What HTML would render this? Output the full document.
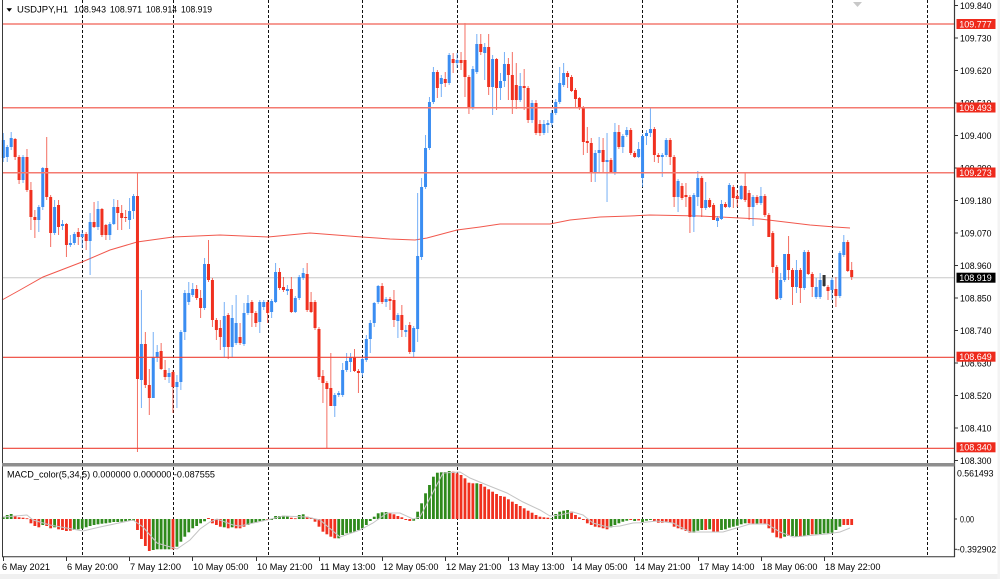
<!DOCTYPE html>
<html><head><meta charset="utf-8">
<style>
html,body{margin:0;padding:0;background:#fff;overflow:hidden;}
svg{display:block;font-family:"Liberation Sans",sans-serif;}
</style></head><body>
<svg id="c" width="1000" height="579" viewBox="0 0 1000 579" xmlns="http://www.w3.org/2000/svg">
<rect x="0" y="0" width="1000" height="579" fill="#ffffff"/>
<rect x="0" y="574" width="1000" height="5" fill="#f0f0f0"/>
<rect x="997.5" y="0" width="2.5" height="579" fill="#f3f3f3"/>
<!-- vertical dashed grid -->
<path d="M82.5 0V463M173.5 0V463M268.5 0V463M362.5 0V463M457.5 0V463M552.5 0V463M642.5 0V463M737.5 0V463M832.5 0V463M927.5 0V463" stroke="#111" stroke-width="1" stroke-dasharray="3 2" fill="none"/>
<path d="M82.5 467V556M173.5 467V556M268.5 467V556M362.5 467V556M457.5 467V556M552.5 467V556M642.5 467V556M737.5 467V556M832.5 467V556M927.5 467V556" stroke="#111" stroke-width="1" stroke-dasharray="3 2" fill="none"/>
<!-- current price line -->
<line x1="2" y1="277.7" x2="954" y2="277.7" stroke="#c8c8c8" stroke-width="1"/>
<g id="cd"></g>
<!-- level lines -->
<g stroke-width="1.5" stroke="#f47a70">
<line x1="2" y1="24" x2="954" y2="24"/>
<line x1="2" y1="107.7" x2="954" y2="107.7"/>
<line x1="2" y1="172.7" x2="954" y2="172.7"/>
</g>
<g stroke-width="1.1" stroke="#ee4236">
<line x1="2" y1="357.3" x2="954" y2="357.3"/>
<line x1="2" y1="448.3" x2="954" y2="448.3"/>
</g>
<!-- frame -->
<line x1="2.5" y1="0" x2="2.5" y2="557" stroke="#3a3a3a" stroke-width="1"/>
<line x1="954.5" y1="0" x2="954.5" y2="557" stroke="#3a3a3a" stroke-width="1.2"/>
<rect x="2" y="463" width="952.5" height="3.5" fill="#8e8e8e"/>
<line x1="2" y1="556.8" x2="955" y2="556.8" stroke="#333" stroke-width="1"/>
<!-- one click arrow -->
<polygon points="853,2 862,2 857.5,7" fill="#c8c8c8"/>
<!-- title -->
<polygon points="6.5,8.3 12,8.3 9.25,11.8" fill="#000"/>
<g font-size="9" fill="#000">
<text x="17" y="12.7" textLength="51" lengthAdjust="spacingAndGlyphs">USDJPY,H1</text>
<text x="74" y="12.7" textLength="32" lengthAdjust="spacingAndGlyphs">108.943</text>
<text x="110" y="12.7" textLength="32" lengthAdjust="spacingAndGlyphs">108.971</text>
<text x="146" y="12.7" textLength="31" lengthAdjust="spacingAndGlyphs">108.914</text>
<text x="181" y="12.7" textLength="31" lengthAdjust="spacingAndGlyphs">108.919</text>
<text x="7" y="477.5" textLength="208" lengthAdjust="spacingAndGlyphs">MACD_color(5,34,5) 0.000000 0.000000 -0.087555</text>
</g>
<g id="ax" font-size="9" fill="#000"></g>
<g id="tl" font-size="9.5" fill="#000"></g>
</svg>
<script>
(function(){
var NS="http://www.w3.org/2000/svg";
var g=document.getElementById('cd');
function el(t,a,p){var e=document.createElementNS(NS,t);for(var k in a)e.setAttribute(k,a[k]);(p||g).appendChild(e);return e;}
function tx(p,x,y,s,len,fill){var e=el('text',{x:x,y:y},p);if(len){e.setAttribute('textLength',len);e.setAttribute('lengthAdjust','spacingAndGlyphs');}if(fill)e.setAttribute('fill',fill);e.textContent=s;return e;}
var X0=3.3,P=3.946;
// moving average
var ma=[[2,300],[20,290],[43,277],[82,262],[110,250],[137,242],[173,237],[220,235],[268,237],[310,233],[362,237],[390,239],[415,240],[427,238],[457,230],[480,227],[500,224],[550,224],[570,220],[600,217],[630,216],[650,215],[700,216],[740,218],[760,219],[785,222],[810,225],[835,227],[850,228]];
el('polyline',{points:ma.map(function(p){return p.join(',')}).join(' '),fill:'none',stroke:'#ef3b2e','stroke-width':1,'stroke-opacity':0.85});
var CD="b,158,140,133,162;b,157,147,145,162;b,147,138,132,150;r,139,157,138,160;r,157,180,155,184;b,180,157,155,183;r,157,190,149,192;r,190,217,182,230;r,217,220,210,238;b,220,207,205,232;"+
"b,207,168,167,210;r,168,197,137,200;r,197,233,195,247;b,233,207,200,235;r,205,227,200,235;b,226,224,220,230;r,224,245,223,257;b,245,243,235,247;b,243,234,232,245;r,232,237,228,245;"+
"b,237,234,230,248;r,234,241,232,250;b,241,222,213,275;r,222,227,202,228;b,227,209,201,230;r,209,235,208,237;r,225,235,224,240;b,235,224,222,240;b,224,207,199,225;r,207,213,200,230;"+
"r,213,218,205,230;r,217,218,210,222;b,220,211,198,229;b,211,196,194,219;r,196,379,172,452;b,380,344,290,408;r,344,385,332,388;r,385,398,369,415;b,398,357,332,398;b,357,352,345,362;"+
"r,351,369,343,370;r,370,377,360,380;b,377,373,368,383;r,372,387,370,413;b,387,382,375,408;b,382,332,330,390;b,332,293,290,340;b,302,293,282,305;b,295,289,283,297;r,289,298,285,300;"+
"r,298,308,290,318;b,308,264,258,310;r,264,280,240,282;r,280,320,278,327;r,320,330,318,340;"+
"r,328,337,320,350;b,347,316,302,357;r,315,347,313,359;b,347,318,305,357;b,343,323,295,345;"+
"r,337,343,323,345;b,344,313,303,346;b,313,303,295,315;r,302,313,300,327;r,313,323,311,327;b,322,302,300,333;b,307,302,300,310;r,302,313,300,323;b,312,301,299,318;b,302,272,263,303;"+
"r,272,288,268,290;r,287,290,277,292;b,291,289,285,295;r,289,312,277,313;b,312,298,296,313;b,298,277,275,300;b,278,273,268,280;r,274,310,263,312;r,302,312,292,313;r,302,328,300,330;"+
"r,329,377,327,380;r,376,383,370,403;r,383,389,381,448;r,388,406,353,406;b,406,395,393,417;b,395,393,391,397;b,395,370,363,397;b,370,361,353,372;b,362,357,353,372;r,357,371,349,372;"+
"r,371,373,369,393;b,373,359,357,377;b,360,339,335,362;b,339,323,320,353;b,323,303,302,327;b,302,286,285,304;r,286,302,283,304;b,302,299,297,307;r,299,301,297,310;r,300,320,290,327;"+
"b,321,315,313,338;r,315,330,305,337;b,332,330,325,337;r,325,352,322,354;b,352,328,326,357;b,329,256,193,342;b,257,187,178,260;"+
"b,187,148,135,189;b,148,102,97,150;b,102,72,67,104;"+
"r,72,88,70,98;b,84,78,75,97;r,79,83,72,87;b,83,55,53,85;r,59,63,53,73;b,63,60,53,68;r,60,63,52,70;r,60,77,23,97;r,77,107,75,114;b,108,69,66,110;"+
"b,72,44,34,74;r,44,52,34,55;b,53,47,43,80;r,47,87,34,95;b,87,59,55,115;r,59,88,58,110;b,88,81,73,100;b,81,64,52,87;r,64,75,58,100;r,75,100,52,114;"+
"r,85,100,63,109;b,100,86,73,102;r,86,88,69,110;r,88,120,86,123;b,120,103,100,123;r,103,133,100,135;r,124,133,120,136;b,133,124,120,135;b,125,123,120,133;b,123,113,110,127;"+
"b,113,102,99,115;b,102,83,67,104;b,85,73,63,87;r,73,77,71,88;r,77,91,75,92;r,90,99,88,107;r,98,108,97,110;r,108,142,106,155;r,141,143,127,153;r,143,173,138,182;"+
"b,173,153,150,182;b,153,150,137,173;r,150,162,138,173;b,162,160,133,202;r,160,173,158,173;b,173,132,123,175;r,132,147,125,149;b,147,136,134,153;b,135,130,127,137;"+
"r,130,153,128,155;"+
"r,153,157,151,158;b,157,149,142,158;b,178,136,134,187;b,136,133,130,145;b,133,129,107,137;r,129,155,127,162;r,155,157,153,163;b,157,155,153,177;b,155,140,138,157;r,140,157,138,165;"+
"r,157,197,155,207;b,197,181,179,212;r,186,198,183,200;r,195,197,183,207;r,197,217,195,233;b,217,195,193,232;b,197,178,171,206;r,178,208,176,217;b,208,200,182,210;r,200,207,198,208;"+
"r,205,220,203,220;b,221,218,216,227;b,219,204,200,220;r,204,207,202,208;b,207,185,183,208;r,187,198,185,208;r,196,199,190,207;b,199,186,185,200;r,186,200,173,202;r,193,207,190,220;"+
"b,207,197,195,226;r,197,203,195,205;b,203,196,187,205;r,196,215,194,217;r,215,237,213,237;r,233,267,231,273;r,267,299,265,300;b,298,280,273,300;b,280,254,254,282;r,254,270,236,280;"+
"r,270,287,268,305;b,287,270,260,293;r,270,288,268,303;b,288,252,250,290;r,252,274,250,275;r,274,287,272,297;b,297,287,278,299;b,297,280,273,299;k,286,275,275,287;r,287,291,285,300;"+
"b,290,280,278,300;r,289,296,277,307;b,296,253,251,298;b,255,242,235,257;r,242,271,240,272;r,270,277,262,280";
CD.split(';').forEach(function(s,i){
 var a=s.split(','),t=a[0],o=+a[1],c=+a[2],h=+a[3],l=+a[4];
 var x=X0+i*P;
 var col=t=='b'?'#3a8df2':(t=='r'?'#f0301f':'#333333');
 var top=Math.min(o,c),bot=Math.max(o,c);
 el('line',{x1:x,x2:x,y1:Math.min(h,top),y2:Math.max(l,bot),stroke:col,'stroke-width':1,'stroke-opacity':0.7});
 el('rect',{x:x-1.5,y:top,width:3,height:Math.max(1,bot-top),fill:col});
});
// MACD
var MD="g,1.7;g,4;g,5;r,3;r,1.7;r,1.3;r,0.7;r,-4.3;r,-7;r,-8.3;"+
"g,-6;r,-7;r,-9.3;g,-8.3;r,-10.3;r,-11;r,-12;r,-11.7;g,-11;g,-10.3;"+
"g,-9.7;g,-8.3;g,-7;g,-6;g,-5.3;g,-4.7;g,-4.3;g,-3.7;g,-3;g,-3;"+
"g,-2.7;g,-2.3;g,-2;g,-1.7;r,-11;r,-20;r,-27;r,-32;g,-31;g,-30.3;"+
"g,-30.3;g,-30.3;g,-30.3;r,-30.3;g,-27.7;g,-22.7;g,-17.7;g,-13.3;g,-9.3;g,-7;"+
"g,-4.3;g,-2.3;r,1;r,-4.3;r,-6;r,-7.7;g,-8.3;r,-9.3;g,-8.3;r,-9.3;"+
"r,-9.3;r,-7.7;g,-6;g,-4.3;g,-3.7;g,-2.3;g,-1.7;r,-1;g,-1;g,3;"+
"g,3;g,3.3;g,3;r,1.3;r,0.7;g,4;g,4.7;r,2.3;r,1.3;r,-2.7;"+
"r,-7.7;r,-12.7;r,-15.3;r,-17.7;r,-19.3;g,-19.3;g,-16;g,-14.3;g,-13.7;g,-12.7;"+
"g,-11;g,-9.3;g,-6;g,-2;g,2.3;g,5.7;g,6.7;g,7;r,6.3;r,4.7;"+
"r,3;r,1.7;r,-1;r,-2;g,-1.7;g,7.3;g,15.7;g,25.7;g,34;g,42.3;"+
"g,46.3;g,46.7;g,47;g,48;r,47.3;r,45.7;r,44;r,40.7;r,36.3;r,35.7;"+
"g,35.7;r,35;r,32.3;r,29.7;r,27.3;r,25;r,23;r,22.3;r,19.7;r,17.3;"+
"r,15;r,13;r,10.7;r,8.3;r,6.3;r,4;r,2.3;r,1.7;r,1.3;g,0.7;"+
"g,5;g,7.3;g,8.3;g,9;r,7.3;r,4;r,1.7;r,-1;r,-4.3;r,-6;"+
"r,-7.7;r,-8.3;r,-9.3;r,-10.3;g,-8.3;g,-6;g,-4.3;g,-2.7;g,-1.7;r,-1;"+
"g,-2;r,-1.5;g,-3.7;g,-1.7;g,-1;r,-2;r,-3.7;r,-3.7;r,-2.7;r,-3.7;"+
"r,-7.7;r,-9.3;r,-10.3;r,-12;r,-13.7;g,-13.7;g,-11.7;g,-11;r,-11;g,-10.3;"+
"r,-12.7;r,-12.7;g,-11;g,-10.3;g,-8.7;g,-7.7;g,-6.7;g,-5.3;g,-4.3;r,-4.3;"+
"r,-5.3;g,-5.3;r,-4.3;r,-5.3;r,-9.3;r,-13.7;r,-18.3;r,-19.3;g,-17.7;r,-17;"+
"g,-17;g,-17.7;r,-17.7;g,-17;g,-16;r,-15.3;g,-15.3;g,-15;g,-14.3;g,-14.3;"+
"g,-13.7;g,-11;g,-7.7;r,-6;r,-6;r,-6";
var Z=519;
MD.split(';').forEach(function(s,i){
 var a=s.split(','),h=+a[1],x=X0+i*P;
 var col=a[0]=='g'?'#2f8a1c':'#f0301f';
 var y=h>0?Z-h:Z, hh=Math.max(0.8,Math.abs(h));
 el('rect',{x:x-1.4,y:y,width:2.8,height:hh,fill:col});
});
var sg=[[3,517],[27,515],[33,520],[50,525],[83,531],[100,527],[133,520],[143,527],[157,543],[177,549],[190,540],[200,529],[210,522],[217,519],[233,525],[240,526],[267,520],[283,516],[307,517],[320,520],[340,537],[360,530],[373,523],[387,513],[400,513],[413,519],[420,517],[430,498],[443,473],[460,472],[470,478],[487,485],[507,493],[523,502],[540,510],[550,516],[560,515],[573,512],[583,515],[593,523],[607,527],[620,526],[633,523],[640,522.7],[657,521],[673,523],[690,532],[723,532],[740,527],[750,524],[767,524],[780,532],[793,537],[827,534],[840,532],[850,528]];
el('polyline',{points:sg.map(function(p){return p.join(',')}).join(' '),fill:'none',stroke:'#c4c4c4','stroke-width':1});
// price axis
var ax=document.getElementById('ax');
var labs=["109.840","109.730","109.620","109.510","109.400","109.290","109.180","109.070","108.960","108.850","108.740","108.630","108.520","108.410","108.300"];
labs.forEach(function(s,k){var cy=5.5+k*32.5;
 el('line',{x1:954,x2:958,y1:cy,y2:cy,stroke:'#333','stroke-width':1},ax);
 tx(ax,960,cy+3.3,s,31.5);
});
function box(cy,s,fill){el('rect',{x:956.5,y:cy-5,width:39,height:10,fill:fill},ax);tx(ax,959.3,cy+3.3,s,32.5,'#fff');}
box(24,"109.777","#ee2a1c");box(107.5,"109.493","#ee2a1c");box(172.5,"109.273","#ee2a1c");
box(356.7,"108.649","#ee2a1c");box(447.3,"108.340","#ee2a1c");box(277.7,"108.919","#000");
// macd axis
el('line',{x1:954,x2:957,y1:519,y2:519,stroke:'#333'},ax);
el('line',{x1:954,x2:957,y1:549.3,y2:549.3,stroke:'#333'},ax);
tx(ax,957,476.6,"0.561493",36.5);
tx(ax,960,522.3,"0.00",14);
tx(ax,957,552.6,"-0.392902",39.3);
// time axis
var tl=document.getElementById('tl');
var tk=[3,66,129,192,256,319,382,445,508,571,634,698,761,824];
var tn=["6 May 2021","6 May 20:00","7 May 12:00","10 May 05:00","10 May 21:00","11 May 13:00","12 May 05:00","12 May 21:00","13 May 13:00","14 May 05:00","14 May 21:00","17 May 14:00","18 May 06:00","18 May 22:00"];
tk.forEach(function(x,k){
 el('line',{x1:x+0.5,x2:x+0.5,y1:557,y2:561,stroke:'#333'},tl);
 var w=tn[k].length>=12?55.5:51; if(k==0)w=48;
 tx(tl,k==0?2:x+1,570,tn[k],w);
});
})();
</script>
</body></html>
